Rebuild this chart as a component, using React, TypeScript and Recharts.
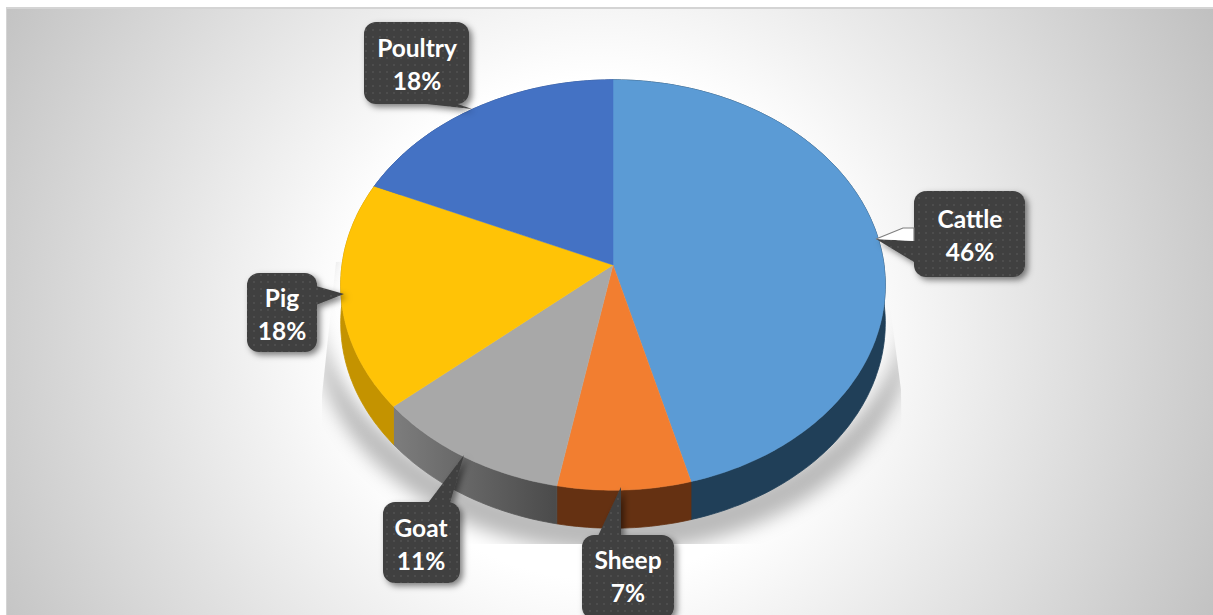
import React from "react";
import { PieChart, Pie } from "recharts";

const NAMES = ["Cattle", "Sheep", "Goat", "Pig", "Poultry"];
const SHARES = [45.8, 7.2, 10.7, 17.9, 18.4];
const TOP_FILLS = ["#5b9bd5", "#f27e30", "#a8a8a8", "#ffc306", "#4472c4"];
const WALL_FILLS = ["#203f58", "#653112", "url(#goatWall)", "#c49300", "#2a4a86"];

const rows = NAMES.map((name, i) => ({
  name,
  value: SHARES[i],
  fill: TOP_FILLS[i],
  wall: WALL_FILLS[i],
}));
const wholePie = [{ name: "all", value: 1 }];

// the pie is tilted with a bit of perspective, so the hub sits above the middle of the ellipse
const SQUASH = 0.75;
const PERSPECTIVE = -0.0975;
const DEPTH = 38;

function project(cx: number, cy: number, r: number, deg: number) {
  const a = (deg * Math.PI) / 180;
  const u = Math.cos(a);
  const v = -Math.sin(a);
  const d = 1 + PERSPECTIVE * v;
  return [cx + (r * u) / d, cy + (r * SQUASH * v) / d];
}

function arcPoints(p: any) {
  const pts: number[][] = [];
  const steps = Math.max(2, Math.ceil(Math.abs(p.endAngle - p.startAngle)));
  for (let i = 0; i <= steps; i++) {
    const deg = p.startAngle + ((p.endAngle - p.startAngle) * i) / steps;
    pts.push(project(p.cx, p.cy, p.outerRadius, deg));
  }
  return pts;
}

const toPath = (pts: number[][]) =>
  "M" + pts.map((q) => `${q[0].toFixed(1)},${q[1].toFixed(1)}`).join("L") + "Z";

function TopFace(p: any) {
  return <path d={toPath([[p.cx, p.cy], ...arcPoints(p)])} fill={p.fill} stroke={p.fill} strokeWidth={0.5} />;
}

function wallPath(p: any) {
  const pts = arcPoints(p);
  const lower = pts.map((q) => [q[0], q[1] + DEPTH]).reverse();
  return toPath([...pts, ...lower]);
}

function Wall(p: any) {
  const fill = p.wall ?? p.payload?.wall;
  return <path d={wallPath(p)} fill={fill} stroke={fill} strokeWidth={0.8} />;
}

function CastShadow(p: any) {
  return (
    <g clipPath="url(#castClip)">
      <path d={wallPath(p)} fill="#000" fillOpacity={0.27} filter="url(#castBlur)" />
    </g>
  );
}

const CALLOUTS: Record<string, any> = {
  Cattle: { x: 914, y: 191, w: 111, h: 86, pointer: "876,239 914,241 914,262", tx: 970, ty: 228 },
  Sheep: { x: 582, y: 535, w: 92, h: 84, pointer: "621,487 598,536 621,536", tx: 628, ty: 569 },
  Goat: { x: 383, y: 502, w: 77, h: 81, pointer: "464,455 428,503 450,503", tx: 421, ty: 537 },
  Pig: { x: 247, y: 273, w: 70, h: 79, pointer: "344,294 316,286 316,305", tx: 282, ty: 307 },
  Poultry: { x: 364, y: 22, w: 105, h: 82, pointer: "472,109 417,103 455,103", tx: 417, ty: 57 },
};

function Callout(p: any) {
  const c = CALLOUTS[p.name];
  return (
    <g>
      <g filter="url(#calloutShadow)">
        <polygon points={c.pointer} fill="url(#dots)" />
        <rect x={c.x} y={c.y} width={c.w} height={c.h} rx={12} fill="url(#dots)" />
      </g>
      {p.name === "Cattle" && (
        <polyline points="876,239 903,228 914,228 914,241" fill="#fff" stroke="#7f7f7f" strokeWidth={1.2} />
      )}
      <text
        x={c.tx}
        y={c.ty}
        textAnchor="middle"
        fill="#fff"
        fontFamily="Lato, sans-serif"
        fontWeight={700}
        fontSize={24.5}
      >
        <tspan x={c.tx}>{p.name}</tspan>
        <tspan x={c.tx} dy={33}>
          {Math.round(p.value)}%
        </tspan>
      </text>
    </g>
  );
}

export default function App() {
  return (
    <div style={{ position: "fixed", left: 0, top: 0, width: 1213, height: 615, background: "#fff", overflow: "hidden" }}>
      <div
        style={{
          position: "absolute",
          left: 6,
          top: 7,
          width: 1207,
          height: 608,
          boxSizing: "border-box",
          borderLeft: "1px solid #d4d4d4",
          borderTop: "2px solid #d4d4d4",
          background: "radial-gradient(circle farthest-corner at 590px 320px, #ffffff 0%, #ffffff 36%, #c0c0c0 100%)",
        }}
      />
      <div style={{ position: "absolute", left: 0, top: 0 }}>
        <PieChart width={1213} height={615} margin={{ top: 0, right: 0, bottom: 0, left: 0 }}>
          <defs>
            <linearGradient id="goatWall" gradientUnits="userSpaceOnUse" x1="397" y1="0" x2="558" y2="0">
              <stop offset="0" stopColor="#7c7c7c" />
              <stop offset="1" stopColor="#4a4a4a" />
            </linearGradient>
            <pattern id="dots" width="7" height="7" patternUnits="userSpaceOnUse">
              <rect width="7" height="7" fill="#404040" />
              <circle cx="2" cy="2" r="1" fill="#525252" />
            </pattern>
            <filter id="calloutShadow" x="-20%" y="-20%" width="150%" height="150%">
              <feDropShadow dx="3" dy="3" stdDeviation="3" floodColor="#000" floodOpacity="0.5" />
            </filter>
            <filter id="castBlur" x="-10%" y="-10%" width="120%" height="120%">
              <feGaussianBlur stdDeviation="9" />
            </filter>
            <clipPath id="castClip">
              <polygon points="336,262 322,395 322,544 903,544 901,390 886,275 613,240" />
            </clipPath>
          </defs>
          <Pie
            data={wholePie}
            dataKey="value"
            cx={613}
            cy={268}
            outerRadius={296}
            startAngle={90}
            endAngle={-270}
            stroke="none"
            shape={CastShadow}
            isAnimationActive={false}
          />
          <Pie
            data={rows}
            dataKey="value"
            nameKey="name"
            cx={613}
            cy={265}
            outerRadius={271}
            startAngle={90}
            endAngle={-270}
            stroke="none"
            shape={Wall}
            isAnimationActive={false}
          />
          <Pie
            data={rows}
            dataKey="value"
            nameKey="name"
            cx={613}
            cy={265}
            outerRadius={271}
            startAngle={90}
            endAngle={-270}
            stroke="none"
            shape={TopFace}
            label={Callout}
            labelLine={false}
            isAnimationActive={false}
          />
        </PieChart>
      </div>
    </div>
  );
}
